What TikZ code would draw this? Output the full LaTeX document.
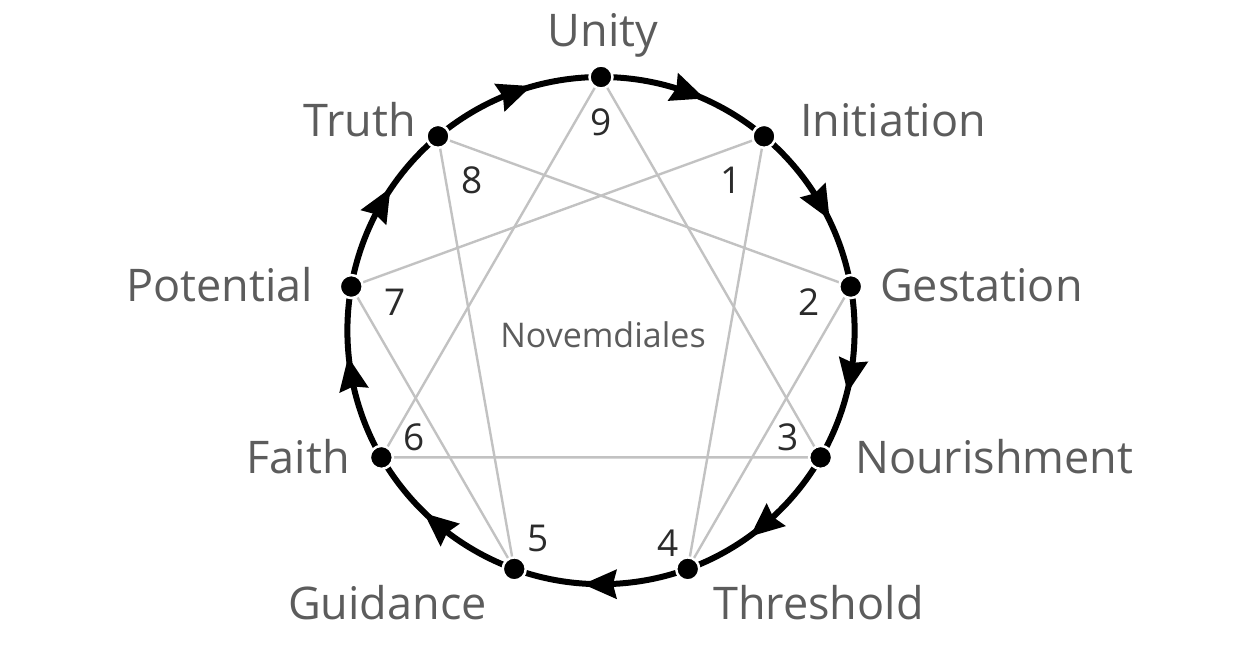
\documentclass[tikz,border=0pt]{standalone}
\usepackage{fontspec}
\setmainfont{Open Sans}
\definecolor{lbl}{HTML}{5C5C5C}
\definecolor{num}{HTML}{2B2B2B}
\definecolor{chord}{HTML}{C2C2C2}
\tikzset{
  lab/.style={inner sep=0pt, text=lbl, font=\fontsize{45}{45}\selectfont},
  numlab/.style={inner sep=0pt, text=num, font=\fontsize{37}{37}\selectfont},
  chordline/.style={draw=chord, line width=2.4pt},
  ring/.style={draw=black, line width=6pt},
  dot/.style={circle, fill=black, draw=white, line width=2.5pt, minimum size=23pt, inner sep=0pt},
}
\begin{document}
\begin{tikzpicture}[x=1pt,y=1pt]
\useasboundingbox (0,0) rectangle (1238,660);
\def\cx{601}\def\cy{329.4}\def\R{253.6}
\coordinate (c) at (\cx,\cy);
% points 9,1..8
\foreach \k in {0,...,8}{
  \pgfmathsetmacro{\a}{90-40*\k}
  \coordinate (p\k) at ({\cx+\R*cos(\a)},{\cy+\R*sin(\a)});
}
% chords: triangle 3-6-9 and hexad 1-4-2-8-5-7-1
\draw[chordline] (p0) -- (p3) -- (p6) -- cycle;
\draw[chordline] (p1) -- (p4) -- (p2) -- (p8) -- (p5) -- (p7) -- cycle;
% ring
\draw[ring] (c) circle[radius=\R pt];
% arrowheads
\foreach \k in {0,...,8}{
  \pgfmathsetmacro{\a}{70-40*\k}
  \fill[black, shift={({\cx+\R*cos(\a)},{\cy+\R*sin(\a)})}, rotate=\a-90]
     (18,0) -- (-16,15) -- (-12,0) -- (-16,-15) -- cycle;
}
% dots
\foreach \k in {0,...,8}{
  \node[dot] (d\k) at (p\k) {};
}
% labels
\node[lab, anchor=base] (lunity) at (603,613) {Unity};
\node[lab, anchor=base west] (linit) at (800,523) {Initiation};
\node[lab, anchor=base west] (lgest) at (880,358) {Gestation};
\node[lab, anchor=base west] (lnour) at (855,186) {Nourishment};
\node[lab, anchor=base west] (lthr) at (713,40) {Threshold};
\node[lab, anchor=base east] (lguid) at (487,40) {Guidance};
\node[lab, anchor=base east] (lfaith) at (350,186) {Faith};
\node[lab, anchor=base east] (lpot) at (313,358) {Potential};
\node[lab, anchor=base east] (ltruth) at (416,523) {Truth};
% numbers
\node[numlab] (n9) at (601,538) {9};
\node[numlab] (n1) at (731,480) {1};
\node[numlab] (n2) at (809,358) {2};
\node[numlab] (n3) at (788,223) {3};
\node[numlab] (n4) at (668,117) {4};
\node[numlab] (n5) at (538,122) {5};
\node[numlab] (n6) at (414,223) {6};
\node[numlab] (n7) at (395,358) {7};
\node[numlab] (n8) at (472,480) {8};
\node[inner sep=0pt, text=lbl, font=\fontsize{34}{34}\selectfont] (nov) at (603,325) {Novemdiales};
\end{tikzpicture}
\end{document}
